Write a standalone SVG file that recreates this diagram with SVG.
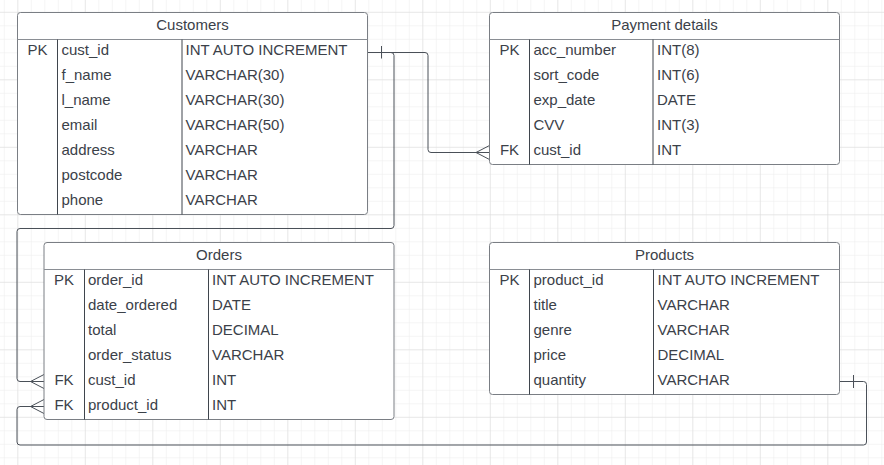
<svg xmlns="http://www.w3.org/2000/svg" width="884" height="465" viewBox="0 0 884 465">
<defs>
<pattern id="minor" patternUnits="userSpaceOnUse" x="3.8" y="-1.7" width="13.5" height="13.5">
<path d="M0 0 V13.5 M0 0 H13.5" fill="none" stroke="#ebebeb" stroke-width="1"/>
</pattern>
<pattern id="major" patternUnits="userSpaceOnUse" x="17.3" y="11.8" width="67.5" height="67.5">
<path d="M0 0 V67.5 M0 0 H67.5" fill="none" stroke="#dcdcdc" stroke-width="1"/>
</pattern>
</defs>
<style>
.box{fill:#ffffff;stroke:#7a7e84;stroke-width:1}
.hl{stroke:#8a8e94;stroke-width:1}
.dv{stroke:#3f454d;stroke-width:1}
text{font-family:"Liberation Sans",Arial,sans-serif;font-size:15px;fill:#3b4149}
.t{text-anchor:middle}
.k{text-anchor:middle}
.cn{fill:none;stroke:#4a5058;stroke-width:1}
</style>
<rect width="884" height="465" fill="#ffffff"/>
<rect width="884" height="465" fill="url(#minor)"/>
<rect width="884" height="465" fill="url(#major)"/>

<g id="connectors">
<path class="cn" d="M367.5 52.5 H425 Q428 52.5 428 55.5 V149.5 Q428 152.5 431 152.5 H489.5"/>
<path class="cn" d="M367.5 52.5 H391 Q394 52.5 394 55.5 V225.5 Q394 228.5 391 228.5 H20 Q17 228.5 17 231.5 V378.5 Q17 381.5 20 381.5 H44"/>
<path class="cn" d="M839.5 381.5 H863.5 Q866.5 381.5 866.5 384.5 V442 Q866.5 445 863.5 445 H20 Q17 445 17 442 V409.5 Q17 406.5 20 406.5 H44"/>
<path class="cn" d="M381.5 46 V58.5 M853.5 375 V388"/>
<path class="cn" d="M476 152.5 L489.5 145.5 M476 152.5 L489.5 159.5"/>
<path class="cn" d="M30.5 381.5 L44 374.5 M30.5 381.5 L44 388.5"/>
<path class="cn" d="M30.5 406.5 L44 399.5 M30.5 406.5 L44 413.5"/>
</g>

<g id="customers">
<rect class="box" x="17.5" y="12.5" width="350" height="202" rx="3"/>
<line class="hl" x1="17.5" y1="39.5" x2="367.5" y2="39.5"/>
<line class="dv" x1="57.5" y1="39.5" x2="57.5" y2="214.5"/>
<line class="dv" x1="182" y1="39.5" x2="182" y2="214.5"/>
<text class="t" x="192.5" y="30">Customers</text>
<text class="k" x="37.5" y="55">PK</text>
<text x="61.5" y="55">cust_id</text><text x="185.5" y="55">INT AUTO INCREMENT</text>
<text x="61.5" y="80">f_name</text><text x="185.5" y="80">VARCHAR(30)</text>
<text x="61.5" y="105">l_name</text><text x="185.5" y="105">VARCHAR(30)</text>
<text x="61.5" y="130">email</text><text x="185.5" y="130">VARCHAR(50)</text>
<text x="61.5" y="155">address</text><text x="185.5" y="155">VARCHAR</text>
<text x="61.5" y="180">postcode</text><text x="185.5" y="180">VARCHAR</text>
<text x="61.5" y="205">phone</text><text x="185.5" y="205">VARCHAR</text>
</g>

<g id="payment-details">
<rect class="box" x="489.5" y="12.5" width="350" height="152" rx="3"/>
<line class="hl" x1="489.5" y1="39.5" x2="839.5" y2="39.5"/>
<line class="dv" x1="529.5" y1="39.5" x2="529.5" y2="164.5"/>
<line class="dv" x1="653" y1="39.5" x2="653" y2="164.5"/>
<text class="t" x="664.5" y="30">Payment details</text>
<text class="k" x="509.5" y="55">PK</text>
<text x="533.5" y="55">acc_number</text><text x="657" y="55">INT(8)</text>
<text x="533.5" y="80">sort_code</text><text x="657" y="80">INT(6)</text>
<text x="533.5" y="105">exp_date</text><text x="657" y="105">DATE</text>
<text x="533.5" y="130">CVV</text><text x="657" y="130">INT(3)</text>
<text class="k" x="509.5" y="155">FK</text>
<text x="533.5" y="155">cust_id</text><text x="657" y="155">INT</text>
</g>

<g id="orders">
<rect class="box" x="44" y="242.5" width="350" height="177" rx="3"/>
<line class="hl" x1="44" y1="269.5" x2="394" y2="269.5"/>
<line class="dv" x1="84.5" y1="269.5" x2="84.5" y2="419.5"/>
<line class="dv" x1="208.5" y1="269.5" x2="208.5" y2="419.5"/>
<text class="t" x="219" y="259.5">Orders</text>
<text class="k" x="64" y="284.5">PK</text>
<text x="88" y="284.5">order_id</text><text x="212" y="284.5">INT AUTO INCREMENT</text>
<text x="88" y="309.5">date_ordered</text><text x="212" y="309.5">DATE</text>
<text x="88" y="334.5">total</text><text x="212" y="334.5">DECIMAL</text>
<text x="88" y="359.5">order_status</text><text x="212" y="359.5">VARCHAR</text>
<text class="k" x="64" y="384.5">FK</text>
<text x="88" y="384.5">cust_id</text><text x="212" y="384.5">INT</text>
<text class="k" x="64" y="409.5">FK</text>
<text x="88" y="409.5">product_id</text><text x="212" y="409.5">INT</text>
</g>

<g id="products">
<rect class="box" x="489.5" y="242.5" width="350" height="152" rx="3"/>
<line class="hl" x1="489.5" y1="269.5" x2="839.5" y2="269.5"/>
<line class="dv" x1="529.5" y1="269.5" x2="529.5" y2="394.5"/>
<line class="dv" x1="653.5" y1="269.5" x2="653.5" y2="394.5"/>
<text class="t" x="664.5" y="259.5">Products</text>
<text class="k" x="509.5" y="284.5">PK</text>
<text x="533.5" y="284.5">product_id</text><text x="657.5" y="284.5">INT AUTO INCREMENT</text>
<text x="533.5" y="309.5">title</text><text x="657.5" y="309.5">VARCHAR</text>
<text x="533.5" y="334.5">genre</text><text x="657.5" y="334.5">VARCHAR</text>
<text x="533.5" y="359.5">price</text><text x="657.5" y="359.5">DECIMAL</text>
<text x="533.5" y="384.5">quantity</text><text x="657.5" y="384.5">VARCHAR</text>
</g>
</svg>
